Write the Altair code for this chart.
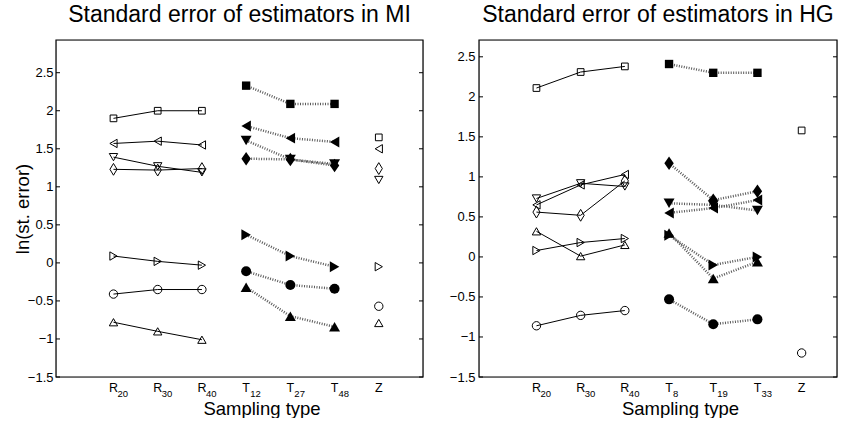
import altair as alt
import pandas as pd

FONT = "Liberation Sans"

# ---------------- data ----------------
series = ["square", "tri_left", "tri_down", "diamond", "tri_right", "circle", "tri_up"]
y_ticks = [-1.5, -1.0, -0.5, 0.0, 0.5, 1.0, 1.5, 2.0, 2.5]

# Panel 1: MI
mi_letters = ["R", "R", "R", "T", "T", "T", "Z"]
mi_subs = ["20", "30", "40", "12", "27", "48", ""]
mi_random = [
    [1.90, 2.00, 2.00],
    [1.57, 1.60, 1.55],
    [1.39, 1.27, 1.19],
    [1.23, 1.22, 1.24],
    [0.09, 0.02, -0.03],
    [-0.41, -0.35, -0.35],
    [-0.78, -0.90, -1.01],
]
mi_targeted = [
    [2.33, 2.09, 2.09],
    [1.80, 1.64, 1.59],
    [1.61, 1.36, 1.30],
    [1.37, 1.36, 1.28],
    [0.37, 0.09, -0.05],
    [-0.11, -0.29, -0.34],
    [-0.32, -0.70, -0.84],
]
mi_z = [1.65, 1.50, 1.09, 1.24, -0.05, -0.57, -0.79]

# Panel 2: HG
hg_letters = ["R", "R", "R", "T", "T", "T", "Z"]
hg_subs = ["20", "30", "40", "8", "19", "33", ""]
hg_random = [
    [2.11, 2.31, 2.38],
    [0.65, 0.90, 1.03],
    [0.73, 0.92, 0.88],
    [0.56, 0.52, 0.95],
    [0.08, 0.18, 0.23],
    [-0.86, -0.73, -0.67],
    [0.32, 0.01, 0.15],
]
hg_targeted = [
    [2.41, 2.30, 2.30],
    [0.55, 0.61, 0.71],
    [0.67, 0.65, 0.58],
    [1.17, 0.71, 0.82],
    [0.27, -0.10, 0.00],
    [-0.53, -0.84, -0.78],
    [0.30, -0.27, -0.06],
]
hg_z = [1.58, None, None, None, None, -1.20, None]

# ---------------- styles ----------------
OPEN_STYLE = {
    "square": ("square", 45),
    "tri_left": ("triangle-left", 70),
    "tri_down": ("triangle-down", 70),
    "diamond": ("M0,-1L0.6,0L0,1L-0.6,0Z", 140),
    "tri_right": ("triangle-right", 70),
    "circle": ("circle", 70),
    "tri_up": ("triangle-up", 70),
}
FILLED_STYLE = {
    "square": ("square", 70),
    "tri_left": ("triangle-left", 120),
    "tri_down": ("triangle-down", 120),
    "diamond": ("M0,-1L0.7,0L0,1L-0.7,0Z", 180),
    "tri_right": ("triangle-right", 120),
    "circle": ("circle", 100),
    "tri_up": ("triangle-up", 120),
}


def build_df(random, targeted, z):
    rows = []
    for i, s in enumerate(series):
        for j in range(3):
            shp, sz = OPEN_STYLE[s]
            rows.append(dict(x=j + 1, y=random[i][j], series=s, grp="R", shp=shp, sz=sz))
        for j in range(3):
            shp, sz = FILLED_STYLE[s]
            rows.append(dict(x=j + 4, y=targeted[i][j], series=s, grp="T", shp=shp, sz=sz))
        if z[i] is not None:
            shp, sz = OPEN_STYLE[s]
            rows.append(dict(x=7, y=z[i], series=s, grp="Z", shp=shp, sz=sz))
    return pd.DataFrame(rows)


def make_panel(df, letters, subs, title, xmax, ymax, W, H, ytitle, label_pad):
    xs = alt.Scale(domain=[-0.3, xmax], nice=False, zero=False)
    ys = alt.Scale(domain=[-1.5, ymax], nice=False, zero=False)
    xax = alt.Axis(labels=False, ticks=False, domain=False, grid=False,
                   title="Sampling type", titleFont=FONT, titleFontSize=18.5,
                   titleFontWeight="normal", titleColor="black",
                   titlePadding=22, titleX=W / 2 + 22)
    yax_kwargs = dict(values=y_ticks, ticks=False, domain=False, grid=False,
                      labelFont=FONT, labelFontSize=13, labelColor="black",
                      labelPadding=label_pad, format="~g")
    if ytitle:
        yax = alt.Axis(title=ytitle, titleFont=FONT, titleFontSize=18.5,
                       titleFontWeight="normal", titleColor="black",
                       titleX=-34, titleY=H / 2, titleAngle=270,
                       titleBaseline="middle", titleAlign="center", **yax_kwargs)
    else:
        yax = alt.Axis(title=None, **yax_kwargs)

    X = alt.X("x:Q", scale=xs, axis=xax)
    Y = alt.Y("y:Q", scale=ys, axis=yax)

    base = alt.Chart(df)
    line_r = base.transform_filter(alt.datum.grp == "R").mark_line(
        color="black", strokeWidth=1).encode(x=X, y=Y, detail="series:N")
    line_t = base.transform_filter(alt.datum.grp == "T").mark_line(
        color="#5a5a5a", strokeWidth=2.5, strokeDash=[1, 1.5]).encode(
        x=X, y=Y, detail="series:N")
    pts_open = base.transform_filter(alt.datum.grp != "T").mark_point(
        filled=False, color="black", strokeWidth=1, opacity=1).encode(
        x=X, y=Y, shape=alt.Shape("shp:N", scale=None), size=alt.Size("sz:Q", scale=None))
    pts_fill = base.transform_filter(alt.datum.grp == "T").mark_point(
        filled=True, color="black", opacity=1).encode(
        x=X, y=Y, shape=alt.Shape("shp:N", scale=None), size=alt.Size("sz:Q", scale=None))

    tick_df = pd.DataFrame({"y": y_ticks})
    tk = alt.Chart(tick_df)
    ticks_l = tk.mark_rule(color="black", strokeWidth=1).encode(
        y=Y, x=alt.value(0), x2=alt.value(4))
    ticks_r = tk.mark_rule(color="black", strokeWidth=1).encode(
        y=Y, x=alt.value(W - 4), x2=alt.value(W))

    frame = alt.Chart(pd.DataFrame({"y": [0]})).mark_rect(
        fill="white", fillOpacity=0, stroke="black", strokeWidth=1.2).encode(
        x=alt.value(0), x2=alt.value(W), y=alt.value(0), y2=alt.value(H))

    lab_df = pd.DataFrame({"x": list(range(1, 8)), "letter": letters, "sub": subs})
    lb = alt.Chart(lab_df)
    lab_main = lb.mark_text(font=FONT, fontSize=12.5, align="center",
                            baseline="alphabetic", color="black").encode(
        x=X, y=alt.value(H + 15), text="letter:N")
    lab_sub = lb.mark_text(font=FONT, fontSize=9.5, align="left", dx=4,
                           baseline="alphabetic", color="black").encode(
        x=X, y=alt.value(H + 20), text="sub:N")

    return alt.layer(line_r, line_t, pts_open, pts_fill, ticks_l, ticks_r,
                     frame, lab_main, lab_sub).properties(
        width=W, height=H,
        title=alt.TitleParams(title, font=FONT, fontSize=23, fontWeight="normal",
                              color="black", anchor="middle", offset=12))


left = make_panel(build_df(mi_random, mi_targeted, mi_z), mi_letters, mi_subs,
                  "Standard error of estimators in MI", 8.0, 2.93, 367, 337,
                  "ln(st. error)", 3)
right = make_panel(build_df(hg_random, hg_targeted, hg_z), hg_letters, hg_subs,
                   "Standard error of estimators in HG", 7.8, 2.71, 358, 337,
                   None, 4)

chart = alt.hconcat(left, right, spacing=23).properties(
    padding={"left": 12, "top": 3, "right": 0, "bottom": 0}
).configure_view(strokeWidth=0).configure(background="white")

chart.save("out.html", embed_options={"renderer": "svg", "actions": False})
